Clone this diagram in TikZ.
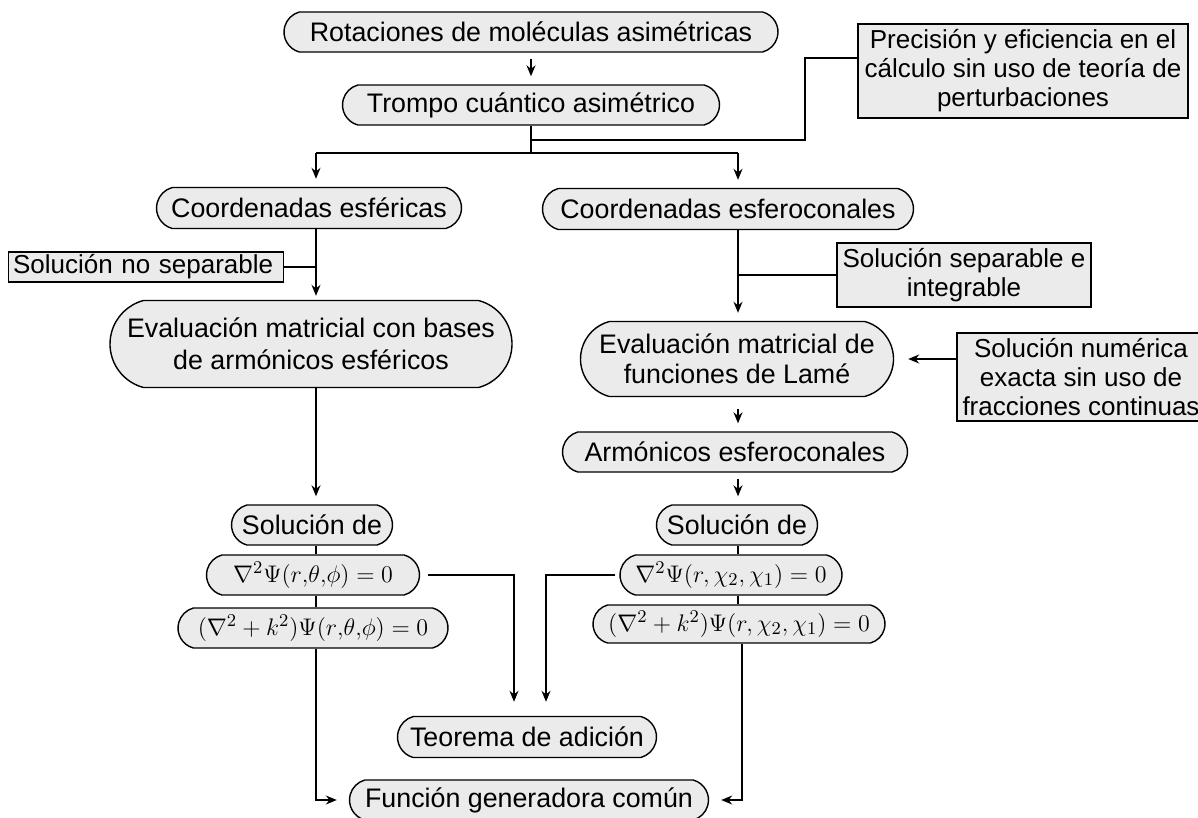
\documentclass[tikz,border=0pt]{standalone}
\usepackage{fontspec}
\setmainfont{Liberation Sans}
\usetikzlibrary{shapes.misc,arrows.meta}
\definecolor{boxgray}{RGB}{235,235,235}
\newcommand\fs{\fontsize{13.4}{14.5}\selectfont}
\newcommand\fr{\fontsize{13}{14.5}\selectfont}
\newcommand\fm{\fontsize{12.2}{14}\selectfont}
\begin{document}
\begin{tikzpicture}[x=0.5pt,y=-0.5pt,
  rr/.style={rounded rectangle, rounded rectangle arc length=150, draw, fill=boxgray, line width=0.7pt, font=\fs, align=center, inner sep=0pt},
  rb/.style={rectangle, draw, fill=boxgray, line width=0.7pt, font=\fr, align=center, inner sep=0pt},
  ln/.style={line width=0.7pt},
  arr/.style={line width=0.7pt, -{Stealth[length=5.5pt,width=4.5pt]}, shorten >=4pt}]
\useasboundingbox (0,0) rectangle (1198,818);
% nodes
\node[rr, minimum width=247pt, minimum height=20pt] (rot) at (531,32) {Rotaciones de moléculas asimétricas};
\node[rr, minimum width=188.5pt, minimum height=20pt] (tro) at (531,105) {Trompo cuántico asimétrico};
\node[rb, minimum width=165pt, minimum height=47pt] (pre) at (1023,71) {Precisión y eficiencia en el\\cálculo sin uso de teoría de\\perturbaciones};
\node[rr, minimum width=152.5pt, minimum height=20.5pt] (ces) at (309,208) {Coordenadas esféricas};
\node[rr, minimum width=185.5pt, minimum height=20.5pt] (cec) at (728,209) {Coordenadas esferoconales};
\node[rb, minimum width=137.5pt, minimum height=15pt, text width=133pt, align=left] (sns) at (146,267) {Solución no separable};
\node[rr, minimum width=201pt, minimum height=43.5pt, font=\fontsize{13.4}{16}\selectfont] (eba) at (311,344) {Evaluación matricial con bases\\de armónicos esféricos};
\node[rb, minimum width=127pt, minimum height=32pt] (sse) at (964,275) {Solución separable e\\integrable};
\node[rr, minimum width=156.5pt, minimum height=37.5pt, font=\fontsize{13.4}{15}\selectfont] (lam) at (737,359) {Evaluación matricial de\\funciones de Lamé};
\node[rb, minimum width=124pt, minimum height=44pt] (snu) at (1081,377) {Solución numérica\\exacta sin uso de\\fracciones continuas};
\node[rr, minimum width=172.5pt, minimum height=20pt] (arm) at (735,452) {Armónicos esferoconales};
\node[rr, minimum width=80.5pt, minimum height=20pt] (sdl) at (312,525) {Solución de};
\node[rr, minimum width=80.5pt, minimum height=20pt] (sdr) at (737,525) {Solución de};
\node[rr, minimum width=106.5pt, minimum height=20pt, font=\fm] (nl) at (313,575) {$\nabla^2\Psi(r{,}\theta{,}\phi) = 0$};
\node[rr, minimum width=135pt, minimum height=20pt, font=\fm] (kl) at (313,628) {$(\nabla^2 + k^2)\Psi(r{,}\theta{,}\phi) = 0$};
\node[rr, minimum width=111pt, minimum height=20pt, font=\fm] (nr) at (731,575) {$\nabla^2\Psi(r, \chi_2, \chi_1) = 0$};
\node[rr, minimum width=146pt, minimum height=19pt, font=\fm] (kr) at (739,624) {$(\nabla^2 + k^2)\Psi(r, \chi_2, \chi_1) = 0$};
\node[rr, minimum width=129.5pt, minimum height=20.5pt] (teo) at (527,737) {Teorema de adición};
\node[rr, minimum width=179.5pt, minimum height=20pt] (fun) at (529,800) {Función generadora común};
% helper coordinates
\coordinate (lc) at (316,0);
\coordinate (rc) at (738,0);
\coordinate (rc2) at (742,0);
\coordinate (ta) at (514,0);
\coordinate (tb) at (546,0);
\coordinate (j1) at (531,140);
\coordinate (j2) at (531,153);
\coordinate (b1) at (805,58);
% connectors
\draw[arr, shorten <=3pt] (rot.south) -- (tro.north);
\draw[ln] (tro.south) -- (j2);
\draw[ln] (j1) -| (b1) -- (b1 -| pre.west);
\draw[ln] (j2 -| lc) -- (j2 -| rc);
\draw[arr] (j2 -| lc) -- (ces.north -| lc);
\draw[arr] (j2 -| rc) -- (cec.north -| rc);
% left column
\draw[arr, shorten >=2pt] (ces.south -| lc) -- (eba.north -| lc);
\draw[ln] (sns.east) -- (sns.east -| lc);
\draw[arr] (eba.south -| lc) -- (sdl.north -| lc);
\draw[ln] (sdl.south -| lc) -- (nl.north -| lc);
\draw[ln] (nl.south -| lc) -- (kl.north -| lc);
\draw[arr, shorten >=6pt] (kl.south -| lc) |- (fun.west);
\draw[arr, shorten <=4pt, shorten >=7pt] (nl.east) -| (teo.north -| ta);
% right column
\draw[arr] (cec.south -| rc) -- (lam.north -| rc);
\draw[ln] (sse.west) -- (sse.west -| rc);
\draw[arr, shorten >=7pt] (snu.west |- lam.east) -- (lam.east);
\draw[arr, shorten <=6pt] (lam.south -| rc) -- (arm.north -| rc);
\draw[arr, shorten <=3pt] (arm.south -| rc) -- (sdr.north -| rc);
\draw[ln] (sdr.south -| rc) -- (nr.north -| rc);
\draw[ln] (nr.south -| rc) -- (kr.north -| rc);
\draw[arr, shorten >=6pt] (kr.south -| rc2) |- (fun.east);
\draw[arr, shorten <=2pt, shorten >=7pt] (nr.west) -| (teo.north -| tb);
\end{tikzpicture}
\end{document}
